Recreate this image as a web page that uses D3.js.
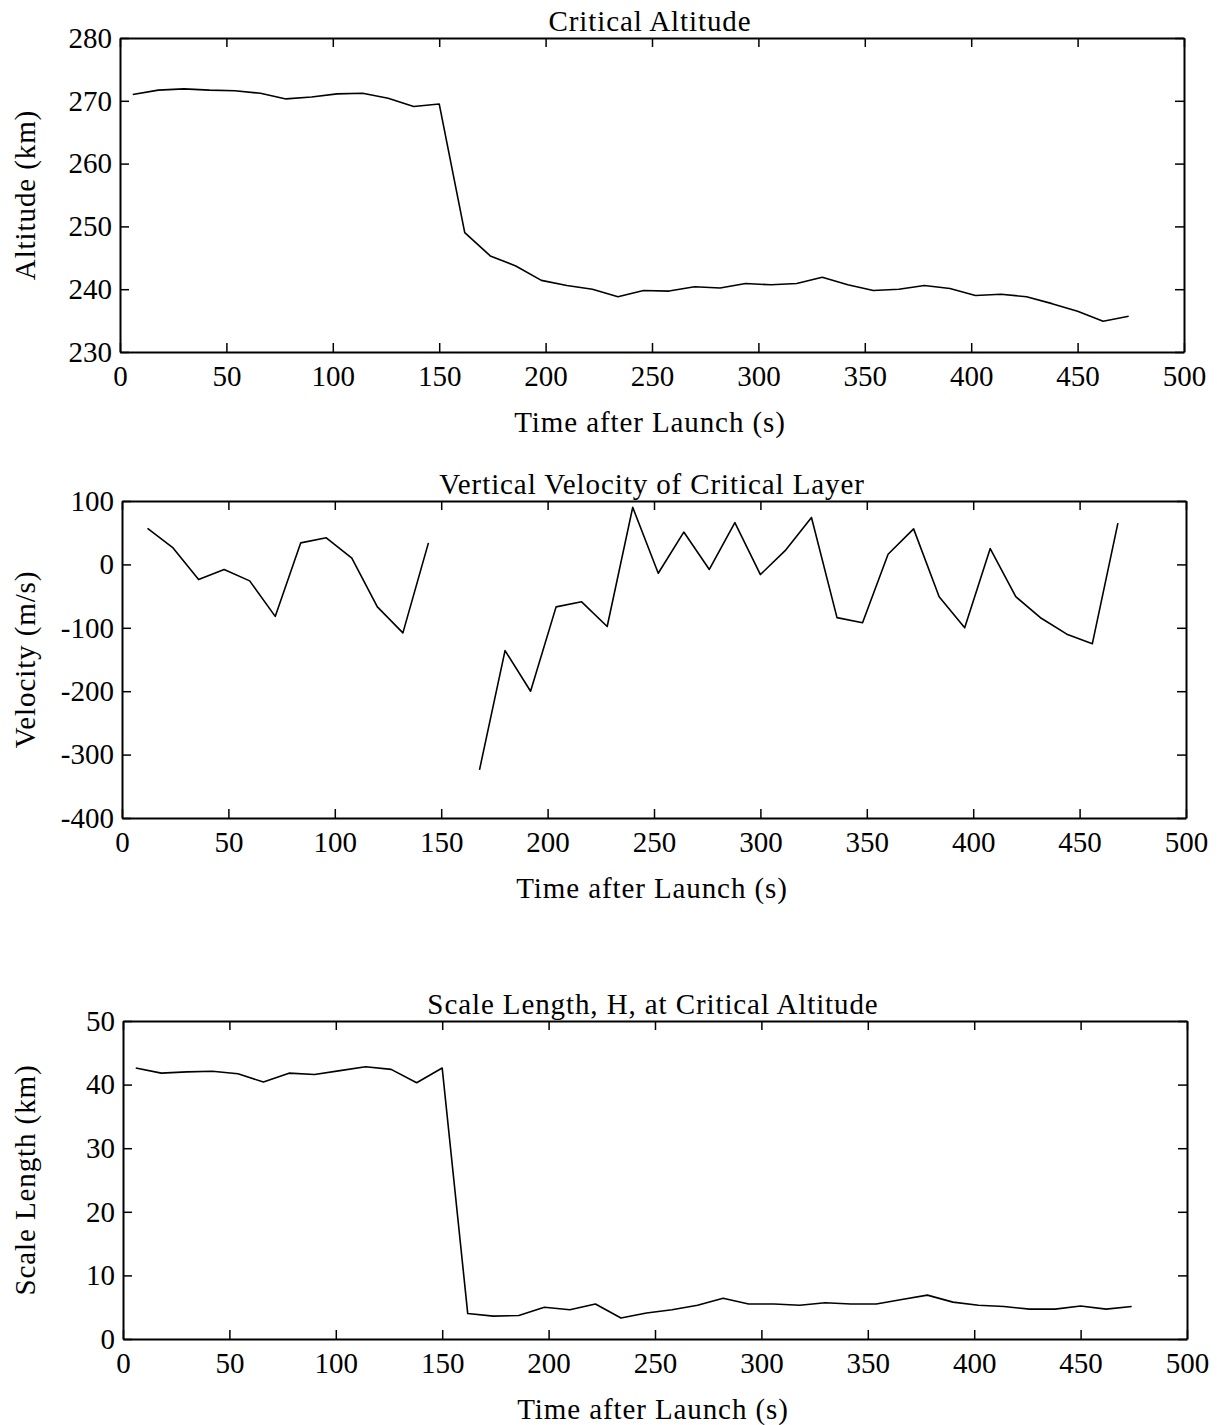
<!DOCTYPE html>
<html>
<head>
<meta charset="utf-8">
<script src="https://cdn.jsdelivr.net/npm/d3@7"></script>
<style>
  html, body { margin: 0; padding: 0; background: #fff; }
  svg { display: block; }
  text { font-family: "Liberation Serif", "Times New Roman", serif; fill: #000; }
</style>
</head>
<body>
<svg id="chart" width="1217" height="1425"></svg>
<script>
// ---------------- data ----------------
const timeH = [6, 18, 30, 42, 54, 66, 78, 90, 102, 114, 126, 138, 150, 162, 174, 186, 198, 210, 222, 234,
               246, 258, 270, 282, 294, 306, 318, 330, 342, 354, 366, 378, 390, 402, 414, 426, 438, 450, 462, 474];

const altitude = [271.0, 271.7, 271.9, 271.7, 271.6, 271.2, 270.3, 270.6, 271.1, 271.2, 270.4, 269.1, 269.5,
                  249.0, 245.3, 243.7, 241.4, 240.6, 240.0, 238.8, 239.8, 239.7, 240.4, 240.2, 240.9, 240.7,
                  240.9, 241.9, 240.7, 239.8, 240.0, 240.6, 240.1, 239.0, 239.2, 238.8, 237.7, 236.5, 234.9, 235.7];

const scaleLength = [42.6, 41.8, 42.0, 42.1, 41.7, 40.4, 41.8, 41.6, 42.2, 42.8, 42.4, 40.3, 42.6,
                     4.0, 3.6, 3.7, 5.0, 4.6, 5.5, 3.3, 4.1, 4.6, 5.3, 6.4, 5.5, 5.5,
                     5.3, 5.7, 5.5, 5.5, 6.2, 6.9, 5.8, 5.3, 5.1, 4.7, 4.7, 5.2, 4.7, 5.1];

const velTime = [12, 24, 36, 48, 60, 72, 84, 96, 108, 120, 132, 144, 156, 168, 180, 192, 204, 216, 228, 240,
                 252, 264, 276, 288, 300, 312, 324, 336, 348, 360, 372, 384, 396, 408, 420, 432, 444, 456, 468];

const velocity = [57, 26, -24, -8, -26, -82, 34, 42, 10, -67, -108, 34, null,
                  -324, -136, -200, -67, -59, -98, 90, -14, 51, -8, 66, -16, 23, 74,
                  -84, -92, 16, 56, -51, -100, 25, -51, -85, -110, -125, 65];

const xTicks = [0, 50, 100, 150, 200, 250, 300, 350, 400, 450, 500];
const altTicks = [230, 240, 250, 260, 270, 280];
const velTicks = [-400, -300, -200, -100, 0, 100];
const hTicks = [0, 10, 20, 30, 40, 50];

const titles = ["Critical Altitude", "Vertical Velocity of Critical Layer", "Scale Length, H, at Critical Altitude"];
const yLabels = ["Altitude (km)", "Velocity (m/s)", "Scale Length (km)"];
const xLabel = "Time after Launch (s)";

// ---------------- layout ----------------
const panels = [
  { x0: 120, x1: 1184, y0: 38,  y1: 352,  xs: timeH,   ys: altitude,    ticks: altTicks, title: titles[0], ylab: yLabels[0] },
  { x0: 122, x1: 1186, y0: 501, y1: 818,  xs: velTime, ys: velocity,    ticks: velTicks, title: titles[1], ylab: yLabels[1] },
  { x0: 123, x1: 1187, y0: 1021, y1: 1339, xs: timeH,  ys: scaleLength, ticks: hTicks,   title: titles[2], ylab: yLabels[2] }
];

const svg = d3.select("#chart");
const TICK = 9;
const tickFont = 29;
const labFont = 29;
const labSpacing = 0.9;
const fmt = d => String(d);   // plain hyphen minus, as in the original

panels.forEach(p => {
  const x = d3.scaleLinear().domain([0, 500]).range([p.x0, p.x1]);
  const y = d3.scaleLinear().domain([p.ticks[0], p.ticks[p.ticks.length - 1]]).range([p.y1, p.y0]);
  const g = svg.append("g");

  const gb = g.append("g").attr("transform", `translate(0,${p.y1})`)
    .call(d3.axisBottom(x).tickValues(xTicks).tickFormat(fmt).tickSize(-TICK).tickSizeOuter(0).tickPadding(13));
  const gl = g.append("g").attr("transform", `translate(${p.x0},0)`)
    .call(d3.axisLeft(y).tickValues(p.ticks).tickFormat(fmt).tickSize(-TICK).tickSizeOuter(0).tickPadding(8));
  const gt = g.append("g").attr("transform", `translate(0,${p.y0})`)
    .call(d3.axisTop(x).tickValues(xTicks).tickFormat("").tickSize(-TICK).tickSizeOuter(0));
  const gr = g.append("g").attr("transform", `translate(${p.x1},0)`)
    .call(d3.axisRight(y).tickValues(p.ticks).tickFormat("").tickSize(-TICK).tickSizeOuter(0));

  [gb, gl, gt, gr].forEach(a => {
    a.select(".domain").attr("stroke", "#000").attr("stroke-width", 2);
    a.selectAll(".tick line").attr("stroke", "#000").attr("stroke-width", 1.5);
    a.selectAll(".tick text").attr("font-size", tickFont)
      .attr("font-family", "'Liberation Serif', 'Times New Roman', serif").attr("fill", "#000");
  });

  const line = d3.line()
    .defined((d, i) => p.ys[i] !== null)
    .x((d, i) => x(p.xs[i]))
    .y((d, i) => y(p.ys[i]));
  g.append("path")
    .datum(p.xs)
    .attr("d", line)
    .attr("fill", "none")
    .attr("stroke", "#000")
    .attr("stroke-width", 1.6)
    .attr("stroke-linejoin", "round");

  g.append("text")
    .attr("x", (p.x0 + p.x1) / 2 - 2)
    .attr("y", p.y0 - 7)
    .attr("text-anchor", "middle")
    .attr("font-size", labFont)
    .attr("letter-spacing", labSpacing)
    .text(p.title);

  g.append("text")
    .attr("x", (p.x0 + p.x1) / 2 - 2)
    .attr("y", p.y1 + 80)
    .attr("text-anchor", "middle")
    .attr("font-size", labFont)
    .attr("letter-spacing", labSpacing)
    .text(xLabel);

  g.append("text")
    .attr("transform", `translate(35,${(p.y0 + p.y1) / 2}) rotate(-90)`)
    .attr("text-anchor", "middle")
    .attr("font-size", labFont)
    .attr("letter-spacing", labSpacing)
    .text(p.ylab);
});
</script>
</body>
</html>
